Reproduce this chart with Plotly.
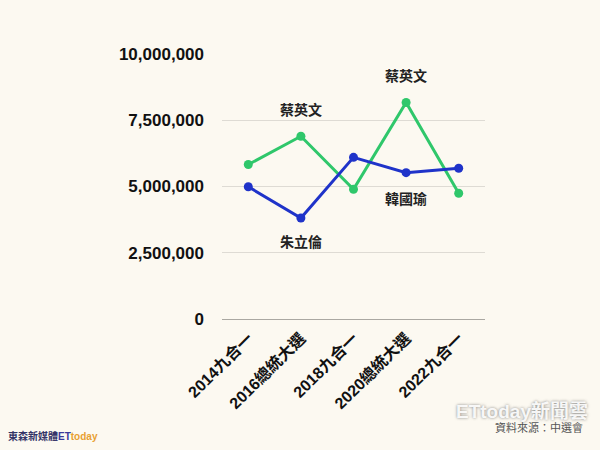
import plotly.graph_objects as go

categories = ["2014九合一", "2016總統大選", "2018九合一", "2020總統大選", "2022九合一"]
dpp_votes = [5830106, 6894744, 4897161, 8170231, 4744000]
kmt_votes = [4990677, 3813365, 6100000, 5522119, 5690000]
y_ticks = [0, 2500000, 5000000, 7500000, 10000000]
y_tick_labels = ["0", "2,500,000", "5,000,000", "7,500,000", "10,000,000"]

green = "#2fc76b"
blue = "#1f33c9"
bg = "#fcf9f1"
font_family = "Liberation Sans, Noto Sans CJK TC, sans-serif"

fig = go.Figure()
fig.add_trace(go.Scatter(x=categories, y=dpp_votes, mode="lines+markers",
                         line=dict(color=green, width=3), marker=dict(size=9, color=green),
                         hoverinfo="skip"))
fig.add_trace(go.Scatter(x=categories, y=kmt_votes, mode="lines+markers",
                         line=dict(color=blue, width=3), marker=dict(size=9, color=blue),
                         hoverinfo="skip"))

labels = [
    (categories[1], dpp_votes[1], "蔡英文", -26),
    (categories[3], dpp_votes[3], "蔡英文", -26),
    (categories[1], kmt_votes[1], "朱立倫", 24),
    (categories[3], kmt_votes[3], "韓國瑜", 26),
]
for x, y, t, dy in labels:
    fig.add_annotation(x=x, y=y, text="<b>" + t + "</b>", showarrow=False,
                       yshift=-dy, font=dict(size=14, color="#222", family=font_family))

fig.add_annotation(xref="paper", yref="paper", x=-0.821, y=-0.47, xanchor="left",
                   text="<b>東森新媒體</b><b><span style='color:#3a3a9a'>ET</span><span style='color:#e8a030'>today</span></b>",
                   showarrow=False, font=dict(size=10, color="#333366", family=font_family))
fig.add_annotation(xref="paper", yref="paper", x=1.38, y=-0.44, xanchor="right",
                   text="資料來源：中選會", showarrow=False,
                   font=dict(size=11, color="#555", family=font_family))
fig.add_annotation(xref="paper", yref="paper", x=1.40, y=-0.395, xanchor="right",
                   text="<b>ETtoday新聞雲</b>", showarrow=False,
                   font=dict(size=19, color="rgba(255,255,255,0.92)", family=font_family,
                             shadow="0px 0px 3px rgba(90,90,90,0.8)"))

fig.update_layout(
    width=600, height=450,
    paper_bgcolor=bg, plot_bgcolor=bg,
    showlegend=False,
    margin=dict(l=222, r=115, t=54, b=131),
    font=dict(family=font_family, color="#111"),
    xaxis=dict(range=[-0.5, 4.5], tickangle=-45, showgrid=False, showline=False,
               ticks="", ticklabelstandoff=6,
               tickfont=dict(size=16, weight=700, color="#111"), fixedrange=True),
    yaxis=dict(range=[0, 10000000], tickvals=y_ticks, ticktext=y_tick_labels,
               showgrid=True, gridcolor="#dedbd4", gridwidth=1,
               zeroline=True, zerolinecolor="#aaa8a2", zerolinewidth=1,
               ticks="", ticklabelstandoff=17,
               tickfont=dict(size=17, weight=700, color="#111"), fixedrange=True),
)

fig.write_html("out.html", config={"displayModeBar": False},
               post_script="document.body.style.margin='0';document.body.style.background='%s';" % bg)
